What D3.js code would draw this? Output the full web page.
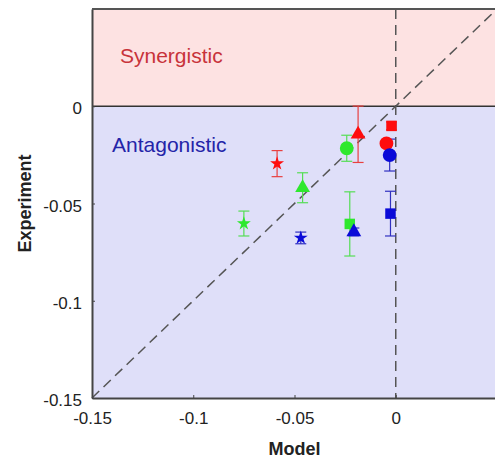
<!DOCTYPE html>
<html>
<head>
<meta charset="utf-8">
<script src="https://cdn.jsdelivr.net/npm/d3@7"></script>
<style>
  body { margin: 0; background: #fff; }
  svg { font-family: "Liberation Sans", Arial, sans-serif; }
</style>
</head>
<body>
<div id="chart"></div>
<script>
// one entry per marker: colour group x shape
const groups = ["red", "red", "red", "red", "green", "green", "green", "green", "blue", "blue", "blue", "blue"];
const shapes = ["star", "triangle", "circle", "square", "star", "triangle", "circle", "square", "star", "triangle", "circle", "square"];
const model = [-0.0586, -0.0186, -0.0046, -0.0021, -0.075, -0.046, -0.0242, -0.0227, -0.0469, -0.0207, -0.003, -0.0026];
const experiment = [-0.0295, -0.0144, -0.0191, -0.0101, -0.0603, -0.0419, -0.0216, -0.0605, -0.0677, -0.0646, -0.0251, -0.0552];
const errors = [0.0067, 0.0145, 0.002, 0.002, 0.0064, 0.0077, 0.0067, 0.0165, 0.003, 0.002, 0.0082, 0.0115];

const xTicks = [-0.15, -0.1, -0.05, 0];
const yTicks = [-0.15, -0.1, -0.05, 0];
const xDomain = [-0.15, 0.05];
const yDomain = [-0.15, 0.05];

const colors = {red: "#ff0d0d", green: "#2ee82e", blue: "#0a0ad8"};
const barColors = {red: "#e84040", green: "#55dd55", blue: "#3030c0"};
const symbols = {star: d3.symbolStar, triangle: d3.symbolTriangle, circle: d3.symbolCircle, square: d3.symbolSquare};
const sizes = {star: 60, triangle: 95, circle: 150, square: 110};

const data = model.map((m, i) => ({
  group: groups[i], shape: shapes[i], x: m, y: experiment[i], err: errors[i]
}));

const width = 495, height = 461;
const margin = {top: 9, right: -2, bottom: 63, left: 92};

const svg = d3.select("#chart").append("svg")
  .attr("width", width)
  .attr("height", height);

const x = d3.scaleLinear().domain(xDomain).range([margin.left, width - margin.right]);
const y = d3.scaleLinear().domain(yDomain).range([height - margin.bottom, margin.top]);

// regions
svg.append("rect")
  .attr("x", x(xDomain[0])).attr("y", y(yDomain[1]))
  .attr("width", x(xDomain[1]) - x(xDomain[0]))
  .attr("height", y(0) - y(yDomain[1]))
  .attr("fill", "#fde2e2");
svg.append("rect")
  .attr("x", x(xDomain[0])).attr("y", y(0))
  .attr("width", x(xDomain[1]) - x(xDomain[0]))
  .attr("height", y(yDomain[0]) - y(0))
  .attr("fill", "#dfdff9");

svg.append("text")
  .attr("x", 120).attr("y", 63)
  .attr("font-size", 21)
  .attr("fill", "#c8333a")
  .text("Synergistic");
svg.append("text")
  .attr("x", 112).attr("y", 152)
  .attr("font-size", 21)
  .attr("fill", "#2424a8")
  .text("Antagonistic");

// reference lines
svg.append("line")
  .attr("x1", x(xDomain[0])).attr("x2", x(xDomain[1]))
  .attr("y1", y(0)).attr("y2", y(0))
  .attr("stroke", "#333").attr("stroke-width", 1.3);
svg.append("line")
  .attr("x1", x(0)).attr("x2", x(0))
  .attr("y1", y(yDomain[1])).attr("y2", y(yDomain[0]))
  .attr("stroke", "#555").attr("stroke-width", 1.5)
  .attr("stroke-dasharray", "10,6");
svg.append("line")
  .attr("x1", x(-0.15)).attr("y1", y(-0.15))
  .attr("x2", x(0.05)).attr("y2", y(0.05))
  .attr("stroke", "#555").attr("stroke-width", 1.5)
  .attr("stroke-dasharray", "10,6");

// error bars
const cap = 5.5;
const bars = svg.append("g").selectAll("g")
  .data(data)
  .enter().append("g")
  .attr("stroke", d => barColors[d.group])
  .attr("stroke-width", 1.2);
bars.append("line")
  .attr("x1", d => x(d.x)).attr("x2", d => x(d.x))
  .attr("y1", d => y(d.y - d.err)).attr("y2", d => y(d.y + d.err));
bars.append("line")
  .attr("x1", d => x(d.x) - cap).attr("x2", d => x(d.x) + cap)
  .attr("y1", d => y(d.y + d.err)).attr("y2", d => y(d.y + d.err));
bars.append("line")
  .attr("x1", d => x(d.x) - cap).attr("x2", d => x(d.x) + cap)
  .attr("y1", d => y(d.y - d.err)).attr("y2", d => y(d.y - d.err));

// markers
svg.append("g").selectAll("path")
  .data(data)
  .enter().append("path")
  .attr("transform", d => "translate(" + x(d.x) + "," + y(d.y) + ")")
  .attr("d", d => d3.symbol().type(symbols[d.shape]).size(sizes[d.shape])())
  .attr("fill", d => colors[d.group]);

// axes
const fmt = d => String(d);
const xAxis = svg.append("g")
  .attr("transform", "translate(0," + y(yDomain[0]) + ")")
  .call(d3.axisBottom(x).tickValues(xTicks).tickFormat(fmt).tickSizeInner(-3).tickSizeOuter(0).tickPadding(14));
const yAxis = svg.append("g")
  .attr("transform", "translate(" + x(xDomain[0]) + ",0)")
  .call(d3.axisLeft(y).tickValues(yTicks).tickFormat(fmt).tickSizeInner(-3).tickSizeOuter(0).tickPadding(10));
[xAxis, yAxis].forEach(a => {
  a.select(".domain").attr("stroke", "#444").attr("stroke-width", 2);
  a.selectAll(".tick line").attr("stroke", "#444");
  a.selectAll("text").attr("font-size", 17).attr("fill", "#222").attr("font-family", "Liberation Sans, Arial, sans-serif");
});
yAxis.selectAll(".tick text").attr("dy", "0.45em");

// top border
svg.append("line")
  .attr("x1", x(xDomain[0])).attr("x2", x(xDomain[1]))
  .attr("y1", y(yDomain[1])).attr("y2", y(yDomain[1]))
  .attr("stroke", "#555").attr("stroke-width", 2);

svg.append("text")
  .attr("x", (x(xDomain[0]) + x(xDomain[1])) / 2).attr("y", 455)
  .attr("text-anchor", "middle")
  .attr("font-size", 18).attr("font-weight", "bold").attr("fill", "#222")
  .text("Model");
svg.append("text")
  .attr("transform", "translate(31," + (y(yDomain[0]) + y(yDomain[1])) / 2 + ") rotate(-90)")
  .attr("text-anchor", "middle")
  .attr("font-size", 18).attr("font-weight", "bold").attr("fill", "#222")
  .text("Experiment");
</script>
</body>
</html>
